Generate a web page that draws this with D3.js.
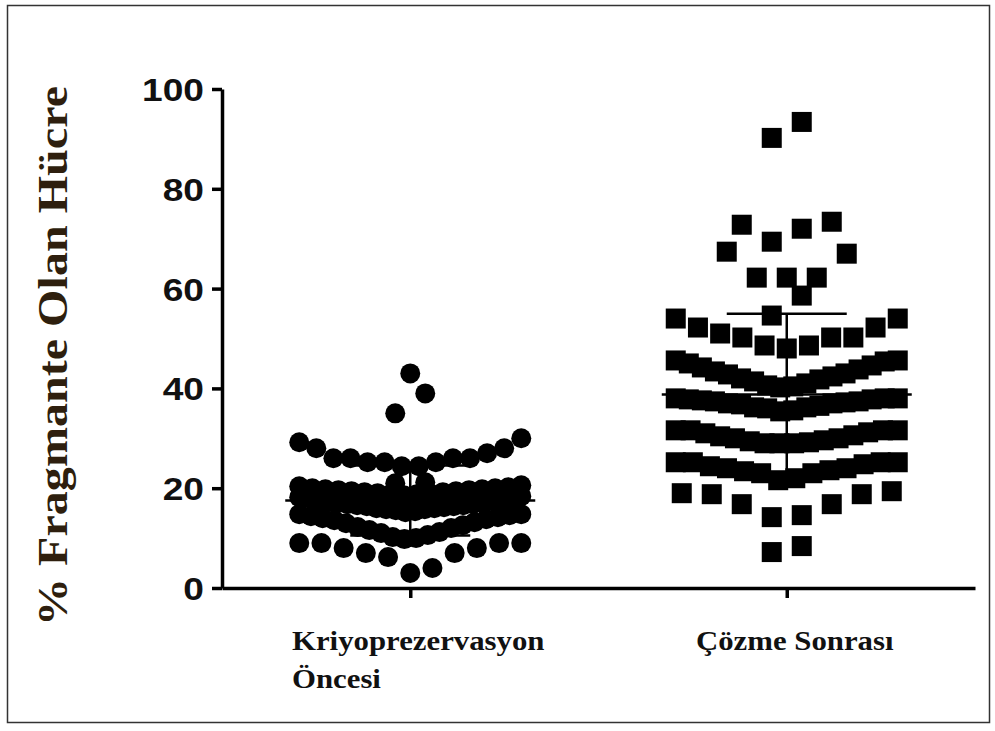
<!DOCTYPE html>
<html>
<head>
<meta charset="utf-8">
<script src="https://cdnjs.cloudflare.com/ajax/libs/d3/7.8.5/d3.min.js"></script>
<style>
body{margin:0;background:#fff;}
.tickNum{font-family:"Liberation Sans",Arial,sans-serif;font-weight:bold;font-size:32px;fill:#111;}
.catLabel{font-family:"Liberation Serif","Times New Roman",serif;font-weight:bold;font-size:27px;fill:#111;}
.yTitle{font-family:"Liberation Serif","Times New Roman",serif;font-weight:bold;font-size:42px;fill:#2e1f0e;}
</style>
</head>
<body>
<script>
(function(){

//group names, label lines and tick values
var categories = ["Kriyoprezervasyon Öncesi", "Çözme Sonrası"];
var categoryLines = [["Kriyoprezervasyon", "Öncesi"], ["Çözme Sonrası"]];
var yTicks = [0, 20, 40, 60, 80, 100];
var yTitle = "% Fragmante Olan Hücre";

//% fragmented cells before cryopreservation
var kriyoValues = [3, 4, 6.2, 7, 7, 8, 8, 9, 9, 9, 9,
    9.8, 10, 10.2, 10.6, 11, 11.2, 11.6, 12, 12.2, 12.6, 13, 13.2, 13.6, 13.8, 14, 14.2, 14.4, 14.6, 14.8, 14.8,
    15.2, 15.4, 15.6, 15.8, 15.8, 16, 16, 16.2, 16.4, 16.4, 16.6, 16.6, 16.8, 16.8, 17, 17, 17.2, 17.4, 17.6, 17.8, 18, 18, 18.2, 18.4,
    18.6, 18.8, 18.8, 19, 19, 19.2, 19.2, 19.4, 19.4, 19.6, 19.6, 19.8, 19.8, 20, 20, 20.2, 20.4, 20.6,
    21, 21.2,
    24.4, 24.4, 25.2, 25.2, 25.2, 26, 26, 26, 26, 27, 28, 28, 29.2, 30,
    35, 39, 43];

//% fragmented cells after thawing
var cozmeValues = [7.2, 8.4,
    14.2, 14.6, 16.8, 16.8, 18.8, 18.8, 19, 19.4,
    21.6, 22, 23, 23, 23.4, 23.6, 24, 24, 24.4, 24.8, 25.2, 25.2, 25.2, 25.2,
    29, 29, 29, 29.2, 29.4, 29.6, 30, 30, 30.4, 30.6, 31, 31.2, 31.6, 31.6, 31.6, 31.6,
    35.4, 35.6, 36, 36.2, 36.2, 36.5, 36.8, 37, 37, 37.2, 37.4, 37.4, 37.6, 37.8, 37.8, 38, 38, 38,
    40.2, 40.4, 40.6, 41, 41.4, 41.8, 42, 42.4, 42.8, 43, 43.4, 43.8, 44.2, 44.6, 45, 45.4, 45.6, 45.6,
    48, 48.6, 48.6, 50.2, 50.2, 50.2, 51, 52.2, 52.2, 54, 54,
    54.6, 58.6,
    62.2, 62.2, 62.2, 67, 67.4,
    69.4, 72, 72.8, 73.4,
    90.2, 93.4];

//values where a new horizontal row of points starts
var kriyoRowBreaks = [9.5, 15, 18.5, 21, 24, 33, 41];
var cozmeRowBreaks = [12, 20.5, 27, 34, 39.8, 47, 54.3, 60, 68.5, 80];

window.onload = setChart();

function setChart(){
    var width = 995,
        height = 731;

    var svg = d3.select("body")
        .append("svg")
        .attr("width", width)
        .attr("height", height);

    //outer frame
    svg.append("rect")
        .attr("x", 7.5)
        .attr("y", 5.5)
        .attr("width", 982)
        .attr("height", 717)
        .attr("fill", "none")
        .attr("stroke", "#333")
        .attr("stroke-width", 1.5);

    var yScale = d3.scaleLinear()
        .domain([0, 100])
        .range([588, 89]);

    var xScale = d3.scalePoint()
        .domain(categories)
        .range([222, 975])
        .padding(0.5);

    //points, spread out in rows like a column scatter plot
    var kriyoPts = spreadRows(kriyoValues, kriyoRowBreaks, xScale(categories[0]));
    var cozmePts = spreadRows(cozmeValues, cozmeRowBreaks, xScale(categories[1]));

    svg.selectAll(".dot")
        .data(kriyoPts)
        .enter()
        .append("circle")
        .attr("class", "dot")
        .attr("cx", function(d){ return d.x; })
        .attr("cy", function(d){ return yScale(d.v); })
        .attr("r", 10)
        .attr("fill", "#000");

    svg.selectAll(".sq")
        .data(cozmePts)
        .enter()
        .append("rect")
        .attr("class", "sq")
        .attr("x", function(d){ return d.x - 10; })
        .attr("y", function(d){ return yScale(d.v) - 10; })
        .attr("width", 20)
        .attr("height", 20)
        .attr("fill", "#000");

    //mean and SD bars
    [kriyoValues, cozmeValues].forEach(function(vals, i){
        var cx = xScale(categories[i]),
            m = d3.mean(vals),
            sd = d3.deviation(vals);
        var g = svg.append("g")
            .attr("stroke", "#000")
            .attr("stroke-width", 2.5);
        g.append("line")
            .attr("x1", cx - 125).attr("x2", cx + 125)
            .attr("y1", yScale(m)).attr("y2", yScale(m));
        g.append("line")
            .attr("x1", cx).attr("x2", cx)
            .attr("y1", yScale(m - sd)).attr("y2", yScale(m + sd));
        [m - sd, m + sd].forEach(function(v){
            g.append("line")
                .attr("x1", cx - 60).attr("x2", cx + 60)
                .attr("y1", yScale(v)).attr("y2", yScale(v));
        });
    });

    //y axis
    var yAxis = d3.axisLeft(yScale)
        .tickValues(yTicks)
        .tickSize(10)
        .tickSizeOuter(0)
        .tickPadding(8);

    var yG = svg.append("g")
        .attr("transform", "translate(222,0)")
        .call(yAxis);
    yG.select(".domain").attr("stroke-width", 3.5).attr("stroke", "#000");
    yG.selectAll(".tick line").attr("stroke-width", 3.5).attr("stroke", "#000");
    yG.selectAll(".tick text")
        .attr("class", "tickNum")
        .attr("font-size", null)
        .attr("font-family", null)
        .attr("dy", "0.36em")
        .each(function(){
            var w = this.getComputedTextLength();
            d3.select(this)
                .attr("textLength", w * 1.16)
                .attr("lengthAdjust", "spacingAndGlyphs");
        });

    //x axis
    var xAxis = d3.axisBottom(xScale)
        .tickSize(10)
        .tickSizeOuter(0)
        .tickFormat("");

    var xG = svg.append("g")
        .attr("transform", "translate(0,588)")
        .call(xAxis);
    xG.select(".domain").attr("stroke-width", 3.5).attr("stroke", "#000");
    xG.selectAll(".tick line").attr("stroke-width", 3.5).attr("stroke", "#000");

    //category labels (left aligned block centered under each tick)
    categories.forEach(function(c, i){
        var lines = categoryLines[i];
        var block = svg.append("g");
        var texts = lines.map(function(l, j){
            var t = block.append("text")
                .attr("class", "catLabel")
                .attr("y", 650 + j * 38)
                .text(l);
            var w = t.node().getComputedTextLength();
            t.attr("textLength", w * 1.14).attr("lengthAdjust", "spacingAndGlyphs");
            return w * 1.14;
        });
        var bw = d3.max(texts);
        block.attr("transform", "translate(" + (xScale(c) - bw / 2 + 8) + ",0)");
    });

    //y axis title
    svg.append("text")
        .attr("class", "yTitle")
        .attr("text-anchor", "middle")
        .attr("transform", "translate(67,356) rotate(-90)")
        .attr("textLength", 540)
        .attr("lengthAdjust", "spacingAndGlyphs")
        .text(yTitle);
};

//place each row's points outward from the centre, lowest value in the middle
function spreadRows(values, breaks, cx){
    var maxGap = 30,
        rowWidth = 222;
    var sorted = values.slice().sort(d3.ascending);
    var rows = d3.groups(sorted, function(v){ return d3.bisectRight(breaks, v); });
    var pts = [];
    rows.forEach(function(r){
        var vals = r[1],
            n = vals.length;
        var gap = n > 1 ? Math.min(maxGap, rowWidth / (n - 1)) : 0;
        var slots = d3.range(n).map(function(k){ return k - (n - 1) / 2; });
        slots.sort(function(a, b){
            return Math.abs(a) - Math.abs(b) || (n % 2 ? b - a : a - b);
        });
        vals.forEach(function(v, i){
            pts.push({x: cx + slots[i] * gap, v: v});
        });
    });
    return pts;
};

})();
</script>
</body>
</html>
